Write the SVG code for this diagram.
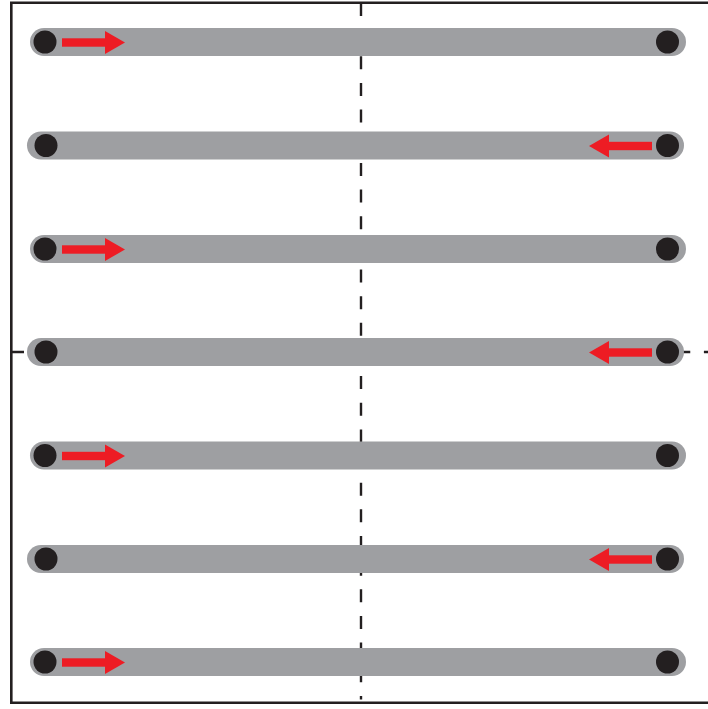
<svg xmlns="http://www.w3.org/2000/svg" width="708" height="709" viewBox="0 0 708 709">
<defs>
<style>
.frame{fill:none;stroke:#231f20;stroke-width:2.6}
.axis{stroke:#231f20;stroke-width:2.4;stroke-dasharray:13 13.65;fill:none}
.bar{fill:#9e9fa2}
.dot{fill:#231f20}
.arrow{fill:#ed1c24}
</style>
<g id="arrowR"><rect x="62" y="-4.2" width="45" height="8.4"/><polygon points="105,-11.5 125,0 105,11.5"/></g>
<g id="arrowL"><rect x="607" y="-4.2" width="45" height="8.4"/><polygon points="609,-11.5 589,0 609,11.5"/></g>
</defs>
<path class="frame" d="M708,2.8 H11.3 V702.8 H708"/>
<g id="connectors">
<line class="axis" x1="361" y1="3" x2="361" y2="699.5"/>
<line class="axis" x1="11" y1="352" x2="708" y2="352"/>
</g>
<g id="row1"><rect class="bar" x="30" y="28" width="656" height="28" rx="14"/><circle class="dot" cx="45" cy="42" r="11.5"/><circle class="dot" cx="667.5" cy="42" r="11.5"/><use href="#arrowR" class="arrow" y="42.5"/></g>
<g id="row2"><rect class="bar" x="27" y="131.5" width="657" height="28" rx="14"/><circle class="dot" cx="46" cy="145.5" r="11.5"/><circle class="dot" cx="667.5" cy="145.5" r="11.5"/><use href="#arrowL" class="arrow" y="146"/></g>
<g id="row3"><rect class="bar" x="30" y="235" width="656" height="28" rx="14"/><circle class="dot" cx="45" cy="249" r="11.5"/><circle class="dot" cx="667.5" cy="249" r="11.5"/><use href="#arrowR" class="arrow" y="249.5"/></g>
<g id="row4"><rect class="bar" x="27" y="338" width="657" height="28" rx="14"/><circle class="dot" cx="46" cy="352" r="11.5"/><circle class="dot" cx="667.5" cy="352" r="11.5"/><use href="#arrowL" class="arrow" y="352.5"/></g>
<g id="row5"><rect class="bar" x="30" y="441.5" width="656" height="28" rx="14"/><circle class="dot" cx="45" cy="455.5" r="11.5"/><circle class="dot" cx="667.5" cy="455.5" r="11.5"/><use href="#arrowR" class="arrow" y="456"/></g>
<g id="row6"><rect class="bar" x="27" y="545" width="657" height="28" rx="14"/><circle class="dot" cx="46" cy="559" r="11.5"/><circle class="dot" cx="667.5" cy="559" r="11.5"/><use href="#arrowL" class="arrow" y="559.5"/></g>
<g id="row7"><rect class="bar" x="30" y="648" width="656" height="28" rx="14"/><circle class="dot" cx="45" cy="662" r="11.5"/><circle class="dot" cx="667.5" cy="662" r="11.5"/><use href="#arrowR" class="arrow" y="662.5"/></g>
</svg>
